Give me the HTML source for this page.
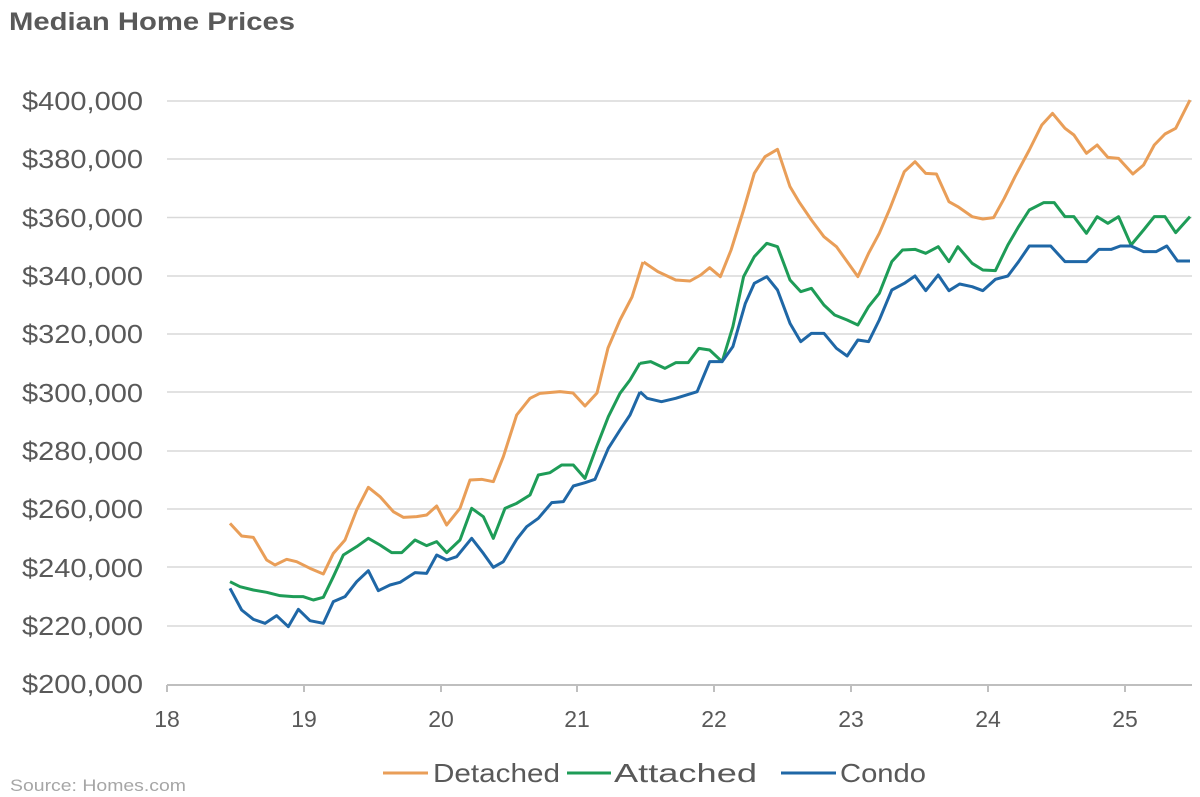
<!DOCTYPE html>
<html><head><meta charset="utf-8"><style>
html,body{margin:0;padding:0;background:#fff;}
svg{display:block;font-family:"Liberation Sans",Arial,sans-serif;}
</style></head><body>
<svg width="1200" height="797" viewBox="0 0 1200 797" xmlns="http://www.w3.org/2000/svg">
<rect width="1200" height="797" fill="#fff"/>
<text x="9" y="30" font-size="25" font-weight="bold" fill="#595959" textLength="286" lengthAdjust="spacingAndGlyphs">Median Home Prices</text>
<g stroke="#d9d9d9" stroke-width="1.5">
<line x1="167" y1="101" x2="1192" y2="101"/>
<line x1="167" y1="159" x2="1192" y2="159"/>
<line x1="167" y1="217.5" x2="1192" y2="217.5"/>
<line x1="167" y1="276" x2="1192" y2="276"/>
<line x1="167" y1="334" x2="1192" y2="334"/>
<line x1="167" y1="392" x2="1192" y2="392"/>
<line x1="167" y1="451" x2="1192" y2="451"/>
<line x1="167" y1="509" x2="1192" y2="509"/>
<line x1="167" y1="567" x2="1192" y2="567"/>
<line x1="167" y1="626" x2="1192" y2="626"/>
</g>
<g stroke="#bfbfbf" stroke-width="2">
<line x1="167" y1="685" x2="1192" y2="685"/>
<line x1="167" y1="685" x2="167" y2="692"/>
<line x1="304" y1="685" x2="304" y2="692"/>
<line x1="441" y1="685" x2="441" y2="692"/>
<line x1="577" y1="685" x2="577" y2="692"/>
<line x1="714" y1="685" x2="714" y2="692"/>
<line x1="851" y1="685" x2="851" y2="692"/>
<line x1="988" y1="685" x2="988" y2="692"/>
<line x1="1125" y1="685" x2="1125" y2="692"/>
</g>
<g font-size="26" fill="#595959">
<text x="22" y="110" textLength="121" lengthAdjust="spacingAndGlyphs">$400,000</text>
<text x="22" y="168" textLength="121" lengthAdjust="spacingAndGlyphs">$380,000</text>
<text x="22" y="227" textLength="121" lengthAdjust="spacingAndGlyphs">$360,000</text>
<text x="22" y="285" textLength="121" lengthAdjust="spacingAndGlyphs">$340,000</text>
<text x="22" y="343" textLength="121" lengthAdjust="spacingAndGlyphs">$320,000</text>
<text x="22" y="402" textLength="121" lengthAdjust="spacingAndGlyphs">$300,000</text>
<text x="22" y="460" textLength="121" lengthAdjust="spacingAndGlyphs">$280,000</text>
<text x="22" y="518" textLength="121" lengthAdjust="spacingAndGlyphs">$260,000</text>
<text x="22" y="577" textLength="121" lengthAdjust="spacingAndGlyphs">$240,000</text>
<text x="22" y="635" textLength="121" lengthAdjust="spacingAndGlyphs">$220,000</text>
<text x="22" y="693" textLength="121" lengthAdjust="spacingAndGlyphs">$200,000</text>
</g>
<g font-size="23" fill="#595959" text-anchor="middle">
<text x="167" y="727">18</text><text x="304" y="727">19</text><text x="441" y="727">20</text>
<text x="577" y="727">21</text><text x="714" y="727">22</text><text x="851" y="727">23</text>
<text x="988" y="727">24</text><text x="1125" y="727">25</text>
</g>
<g fill="none" stroke-width="3" stroke-linejoin="round">
<g transform="translate(160,380) scale(0.33333,0.33333)">
<polyline vector-effect="non-scaling-stroke" stroke="#e99e58" points="210,430 245,468 280,472 320,540 345,555 380,538 410,545 450,565 490,582 520,520 555,480 590,390 625,322 660,350 700,395 730,412 770,410 800,405 830,378 860,435 900,385 930,300 965,298 1000,305 1030,230 1070,105 1110,55 1140,40 1200,35 1239,39 1275,78 1311,39 1344,-96 1380,-180 1416,-249 1449,-354"/>
<polyline vector-effect="non-scaling-stroke" stroke="#1e9c57" points="210,605 240,620 280,630 320,637 360,647 400,650 430,650 460,660 490,652 520,590 550,525 590,500 625,475 660,495 695,518 725,518 765,480 800,497 830,485 860,518 900,480 935,385 970,410 1000,475 1035,385 1070,370 1110,345 1135,285 1170,278 1205,255 1240,255 1275,295 1310,200 1345,110 1380,40 1410,0 1440,-51"/>
<polyline vector-effect="non-scaling-stroke" stroke="#1f67a6" points="210,625 245,690 280,718 315,730 350,707 385,740 415,688 450,722 490,730 520,665 555,650 590,605 625,572 655,632 690,615 720,607 765,578 800,580 830,525 860,540 890,530 935,475 970,520 1000,562 1030,545 1070,478 1100,440 1135,415 1175,368 1210,365 1240,318 1275,308 1305,298 1345,205 1380,150 1410,105 1440,36"/>
</g>
<g transform="translate(640,80) scale(0.35714,0.33333)">
<polyline vector-effect="non-scaling-stroke" stroke="#e99e58" points="10,546 50,575 100,600 140,603 170,585 195,563 225,590 255,510 290,390 320,280 350,230 385,208 420,320 445,365 480,420 515,470 550,500 580,545 610,590 640,520 670,460 700,385 740,275 770,245 800,280 830,282 865,365 890,380 930,410 960,417 990,413 1020,355 1050,290 1090,210 1125,135 1155,100 1190,145 1215,165 1250,220 1280,195 1310,232 1340,235 1380,282 1410,255 1440,195 1470,162 1500,145 1540,60"/>
<polyline vector-effect="non-scaling-stroke" stroke="#1e9c57" points="0,850 30,845 70,865 100,848 135,848 165,805 195,810 230,845 260,740 290,590 320,530 355,490 385,500 420,600 450,635 480,625 515,675 545,705 580,720 610,735 640,680 670,640 705,545 735,510 770,508 800,520 835,500 865,545 890,500 930,550 960,570 995,572 1030,495 1060,440 1090,390 1130,368 1160,368 1190,410 1215,410 1250,460 1280,410 1310,430 1340,410 1375,495 1410,450 1440,410 1470,410 1500,458 1540,410"/>
<polyline vector-effect="non-scaling-stroke" stroke="#1f67a6" points="0,935 20,955 60,965 100,955 160,935 195,845 230,845 260,800 295,670 320,610 355,590 385,630 420,730 450,785 480,760 515,760 550,805 580,828 610,780 640,785 670,720 705,630 740,610 770,588 800,632 835,585 865,632 895,612 930,620 960,632 995,598 1030,588 1060,545 1090,498 1150,498 1190,545 1250,545 1285,508 1320,508 1345,498 1375,498 1410,515 1445,515 1475,498 1505,543 1540,543"/>
</g>
</g>
<text x="10" y="791" font-size="17" fill="#a6a6a6" textLength="176" lengthAdjust="spacingAndGlyphs">Source:  Homes.com</text>
<g font-size="26" fill="#595959">
<line x1="383" y1="773" x2="428" y2="773" stroke="#e99e58" stroke-width="3"/>
<text x="433" y="782" textLength="127" lengthAdjust="spacingAndGlyphs">Detached</text>
<line x1="567" y1="773" x2="611" y2="773" stroke="#1e9c57" stroke-width="3"/>
<text x="614" y="782" textLength="143" lengthAdjust="spacingAndGlyphs">Attached</text>
<line x1="781" y1="773" x2="836" y2="773" stroke="#1f67a6" stroke-width="3"/>
<text x="840" y="782" textLength="86" lengthAdjust="spacingAndGlyphs">Condo</text>
</g>
</svg>
</body></html>
